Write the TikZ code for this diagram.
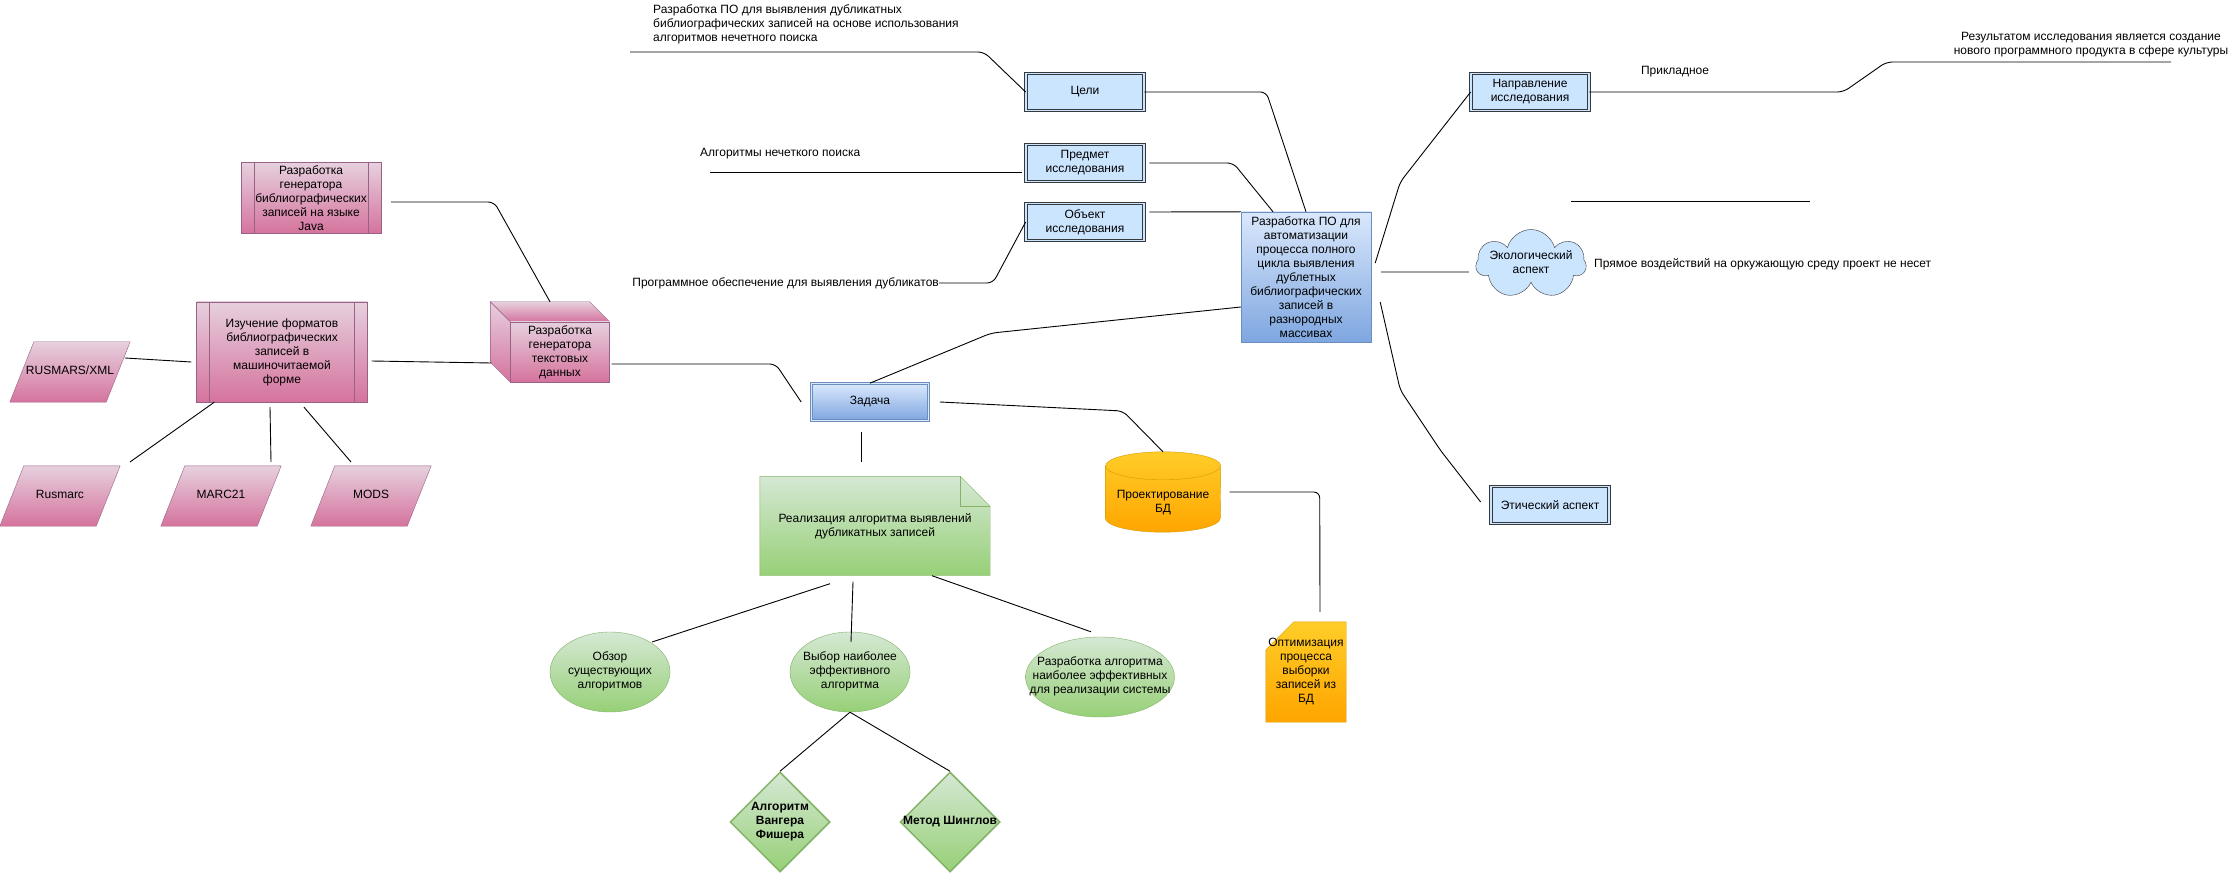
\documentclass[tikz,border=0pt]{standalone}
\usepackage{fontspec}
\setmainfont{Liberation Sans}
\usetikzlibrary{shapes.geometric}
\usetikzlibrary{shapes.symbols}
\usetikzlibrary{backgrounds}
\definecolor{darkline}{HTML}{36393D}
\definecolor{lightblue}{HTML}{CCE5FF}
\definecolor{blueline}{HTML}{6C8EBF}
\definecolor{bluetop}{HTML}{DAE8FC}
\definecolor{bluebot}{HTML}{7EA6E0}
\definecolor{pinkline}{HTML}{996185}
\definecolor{pinktop}{HTML}{E6D0DE}
\definecolor{pinkbot}{HTML}{D5739D}
\definecolor{greenline}{HTML}{82B366}
\definecolor{greentop}{HTML}{D5E8D4}
\definecolor{greenbot}{HTML}{97D077}
\definecolor{orangeline}{HTML}{D79B00}
\definecolor{orangetop}{HTML}{FFCD28}
\definecolor{orangebot}{HTML}{FFA500}
\newcommand{\inshape}[1]{\makebox[0pt]{\begin{tabular}{@{}c@{}}#1\end{tabular}}}

\begin{document}
\begin{tikzpicture}[x=1pt, y=-1pt, font=\fontsize{12}{14}\selectfont,
link/.style={line width=0.9pt, rounded corners=6pt},
txt/.style={inner sep=0, align=center},
bluebox/.style={draw=darkline, line width=0.7pt, double=lightblue, double distance=1.8pt, fill=lightblue, minimum width=118, minimum height=37, txt},
pinkfill/.style={draw=pinkline, top color=pinktop, bottom color=pinkbot},
greenfill/.style={draw=greenline, top color=greentop, bottom color=greenbot},
orangefill/.style={draw=orangeline, top color=orangetop, bottom color=orangebot},
procbox/.style={pinkfill, txt, path picture={\draw[pinkline] ([xshift=13pt]path picture bounding box.north west) -- ([xshift=13pt]path picture bounding box.south west) ([xshift=-13pt]path picture bounding box.north east) -- ([xshift=-13pt]path picture bounding box.south east);}},
formatbox/.style={minimum width=120, minimum height=60, inner sep=0},
greenoval/.style={greenfill, ellipse, minimum width=120, minimum height=80, inner sep=0},
greendiamond/.style={greenfill, diamond, line width=1.5pt, minimum width=100, minimum height=100, inner sep=0, font=\fontsize{12}{14}\selectfont\bfseries}]

\useasboundingbox (0,0) rectangle (2230,874);

\node[anchor=west, align=left, inner sep=0] (goaltext) at (653,24) {Разработка ПО для выявления дубликатных\\ библиографических записей на основе использования\\ алгоритмов нечетного поиска};
\coordinate (goalend) at (630,52);
\node[bluebox] (goal) at (1085,92) {Цели};
\node[anchor=west, inner sep=0] (subjtext) at (700,154) {Алгоритмы нечеткого поиска};
\coordinate (subjend) at (710,172);
\node[bluebox] (subj) at (1085,163) {Предмет\\ исследования};
\node[bluebox] (obj) at (1085,222) {Объект\\ исследования};
\node[anchor=east, inner sep=0] (objtext) at (939,283) {Программное обеспечение для выявления дубликатов};
\node[draw=blueline, top color=bluetop, bottom color=bluebot, minimum width=130, minimum height=130, txt] (main) at (1306,277) {Разработка ПО для\\ автоматизации\\ процесса полного\\ цикла выявления\\ дублетных\\ библиографических\\ записей в\\ разнородных\\ массивах};
\node[bluebox] (dir) at (1530,92) {Направление\\ исследования};
\node[txt] (applied) at (1675,72) {Прикладное};
\node[txt] (result) at (2091,45) {Результатом исследования является создание\\ нового программного продукта в сфере культуры};
\coordinate (resultend) at (2171,62);
\coordinate (blankleft) at (1571,201);
\coordinate (blankright) at (1810,201);
\node[cloud, cloud puffs=7, aspect=1.6, draw=darkline, fill=lightblue, minimum width=110, minimum height=69, inner sep=0] (eco) at (1531,264) {\inshape{Экологический\\ аспект}};
\node[anchor=west, txt] (ecotext) at (1594,264) {Прямое воздействий на оркужающую среду проект не несет};
\node[bluebox] (ethics) at (1550,505) {Этический аспект};

\node[procbox, minimum width=140, minimum height=71] (java) at (311,198) {Разработка\\ генератора\\ библиографических\\ записей на языке\\ Java};
\node[procbox, minimum width=171, minimum height=100] (study) at (282,352) {Изучение форматов\\ библиографических\\ записей в\\ машиночитаемой\\ форме};
\node[pinkfill, minimum width=99, minimum height=60, txt] (cube) at (560,352) {Разработка\\ генератора\\ текстовых\\ данных};
\node[formatbox] (rusxml) at (70,372) {\inshape{RUSMARS/XML}};
\node[formatbox] (rusmarc) at (60,496) {\inshape{Rusmarc}};
\node[formatbox] (marc) at (221,496) {\inshape{MARC21}};
\node[formatbox] (mods) at (371,496) {\inshape{MODS}};

\node[draw=blueline, line width=0.7pt, double=bluetop, double distance=1.8pt, top color=bluetop, bottom color=bluebot, minimum width=117, minimum height=37, txt] (task) at (870,402) {Задача};
\node[txt, minimum width=230, minimum height=99] (impl) at (875,526) {Реализация алгоритма выявлений\\ дубликатных записей};
\node[txt, minimum width=115, minimum height=80] (db) at (1163,492) {};
\node[txt] (dbt) at ([shift={(0,11)}]db.center) {Проектирование\\ БД};
\node[txt, minimum width=80, minimum height=100] (opt) at (1306,672) {\inshape{Оптимизация\\ процесса\\ выборки\\ записей из\\ БД}};
\node[greenoval] (review) at (610,672) {\inshape{Обзор\\ существующих\\ алгоритмов}};
\node[greenoval] (choice) at (850,672) {\inshape{Выбор наиболее\\ эффективного\\ алгоритма}};
\node[greenoval, minimum width=149] (design) at (1100,677) {\inshape{Разработка алгоритма\\ наиболее эффективных\\ для реализации системы}};
\node[greendiamond] (wf) at (780,822) {\inshape{Алгоритм\\ Вангера\\ Фишера}};
\node[greendiamond] (sh) at (950,822) {\inshape{Метод Шинглов}};

\begin{scope}[on background layer]
\fill[white] (0,0) rectangle (2230,874);
\path[pinkfill] (cube.north west) -- ++(-20,-20) -- ([shift={(-20,-20)}]cube.north east) -- (cube.north east) -- cycle;
\path[pinkfill] (cube.north west) -- ++(-20,-20) -- ([shift={(-20,-20)}]cube.south west) -- (cube.south west) -- cycle;
\foreach \f in {rusxml,rusmarc,marc,mods}
  \path[pinkfill] (\f.south west) -- ([xshift=24pt]\f.north west) -- (\f.north east) -- ([xshift=-24pt]\f.south east) -- cycle;
\path[greenfill] (impl.north west) -- ([shift={(-30,0)}]impl.north east) -- ([shift={(0,30)}]impl.north east) -- (impl.south east) -- (impl.south west) -- cycle;
\draw[greenline] ([shift={(-30,0)}]impl.north east) -- ([shift={(-30,30)}]impl.north east) -- ([shift={(0,30)}]impl.north east);
\path[orangefill] ([shift={(0,14)}]db.north west) -- ([shift={(0,-14)}]db.south west) arc[start angle=180, end angle=0, x radius=57.5, y radius=14] -- ([shift={(0,14)}]db.north east) arc[start angle=0, end angle=-180, x radius=57.5, y radius=14] -- cycle;
\draw[orangeline] ([shift={(0,14)}]db.north west) arc[start angle=180, end angle=0, x radius=57.5, y radius=14];
\path[orangefill] (opt.south west) -- ([shift={(0,28)}]opt.north west) -- ([shift={(28,0)}]opt.north west) -- (opt.north east) -- (opt.south east) -- cycle;
\end{scope}

\draw[link] (goalend) -- (984,52) -- (goal.west);
\draw[link] (goal.east) -- ++(122,0) -- (main.north);
\draw[link] (subjend) -- ([shift={(-4,9)}]subj.west);
\draw[link] ([xshift=5]subj.east) -- ++(84,0) -- ([xshift=-33]main.north);
\draw[link] ([shift={(5,-10)}]obj.east) -- (main.north west);
\draw[link] (objtext.east) -- ++(54,0) -- (obj.west);
\draw[link] ([shift={(4,-14)}]main.east) -- ++(25,-81) -- (dir.west);
\draw[link] (dir.east) -- ++(254,0) -- ++(43,-30) -- (resultend);
\draw[link] (blankleft) -- (blankright);
\draw[link] ([shift={(10,-5)}]main.east) -- ([shift={(-7,8)}]eco.west);
\draw[link] ([shift={(9,25)}]main.east) -- ++(20,88) -- ++(40,60) -- ([shift={(-10,-3)}]ethics.west);
\draw[link] (task.north) -- ++(121,-50) -- ([shift={(0,30)}]main.west);
\draw[link] ([shift={(2,12)}]cube.east) -- ++(164,0) -- ([xshift=-10]task.west);
\draw[link] ([xshift=11]task.east) -- ++(183,9) -- (db.north);
\draw[link] ([shift={(-9,11)}]task.south) -- ([shift={(-14,-14)}]impl.north);
\draw[link] ([xshift=9]db.east) -- ++(90,0) -- ([shift={(14,-10)}]opt.north);
\draw[link] ([shift={(4,9)}]study.east) -- ([shift={(-19,11)}]cube.west);
\draw[link] ([shift={(10,4)}]java.east) -- ++(103,0) -- ([shift={(-10,-20)}]cube.north);
\draw[link] ([shift={(55,-14)}]rusxml.center) -- ([shift={(-5,10)}]study.west);
\draw[link] ([xshift=18]study.south west) -- ([shift={(70,-34)}]rusmarc.center);
\draw[link] ([shift={(-12,5)}]study.south) -- ([shift={(50,-34)}]marc.center);
\draw[link] ([shift={(22,5)}]study.south) -- ([shift={(-20,-34)}]mods.center);
\draw[link] ([shift={(-45,8)}]impl.south) -- ([shift={(42,-30)}]review.center);
\draw[link] ([shift={(-22,6)}]impl.south) -- ([shift={(1,10)}]choice.north);
\draw[link] ([xshift=57]impl.south) -- ([shift={(-9,-5)}]design.north);
\draw[link] (choice.south) -- (wf.north);
\draw[link] (choice.south) -- (sh.north);

\end{tikzpicture}
\end{document}
